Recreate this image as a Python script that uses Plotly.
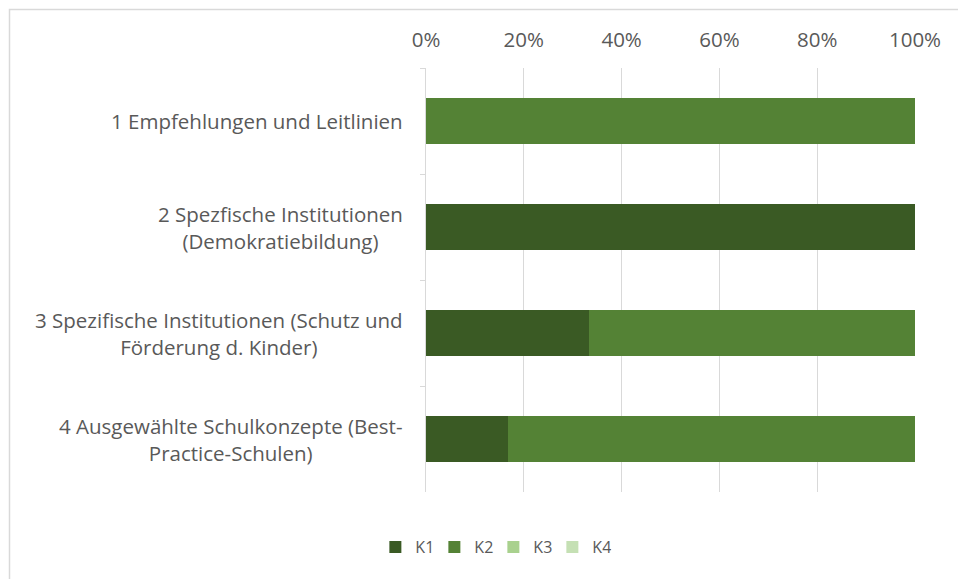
import plotly.graph_objects as go

categories = [
    "1 Empfehlungen und Leitlinien",
    "2 Spezfische Institutionen<br>(Demokratiebildung)",
    "3 Spezifische Institutionen (Schutz und<br>Förderung d. Kinder)",
    "4 Ausgewählte Schulkonzepte (Best-<br>Practice-Schulen)",
]
cat_ids = ["c1", "c2", "c3", "c4"]
series_names = ["K1", "K2", "K3", "K4"]
K1 = [0, 100, 33.3, 16.7]
K2 = [100, 0, 66.7, 83.3]
K3 = [0, 0, 0, 0]
K4 = [0, 0, 0, 0]
series_values = [K1, K2, K3, K4]
colors = ["#3a5a24", "#548235", "#a9d18e", "#c5e0b4"]
x_ticks = [0, 20, 40, 60, 80, 100]

W, H = 958, 579
L, R, T, B = 426, 43, 68, 87
FONT = "Open Sans"
GRAY = "#595959"

fig = go.Figure()
for name, vals, col in zip(series_names, series_values, colors):
    fig.add_trace(go.Bar(
        y=cat_ids, x=vals, name=name, orientation="h",
        marker=dict(color=col, line=dict(width=0)),
    ))

for cid, label in zip(cat_ids, categories):
    fig.add_annotation(
        x=0, xref="paper", y=cid, yref="y", text=label, showarrow=False,
        xanchor="right", yanchor="middle", align="center", xshift=-21,
        font=dict(family=FONT, size=20.5, color=GRAY),
    )

pw = W - L - R
ph = H - T - B
fig.add_shape(
    type="rect", xref="paper", yref="paper",
    x0=(9.5 - L) / pw, x1=(W + 5 - L) / pw,
    y0=(H - B - (H + 5)) / ph, y1=(H - B - 9.5) / ph,
    line=dict(color="#d9d9d9", width=1.5), fillcolor="rgba(0,0,0,0)", layer="below",
)

fig.update_layout(
    width=W, height=H,
    margin=dict(l=L, r=R, t=T, b=B, autoexpand=False),
    paper_bgcolor="white", plot_bgcolor="white",
    barmode="stack", bargap=0.57,
    font=dict(family=FONT, size=20.5, color=GRAY),
    showlegend=True,
    legend=dict(
        orientation="h", xref="container", yref="container",
        x=0.515, xanchor="center", y=1 - 547 / H, yanchor="middle",
        font=dict(family=FONT, size=16, color=GRAY),
        itemwidth=30, traceorder="normal", entrywidth=14, entrywidthmode="pixels",
    ),
    xaxis=dict(
        side="top", range=[0, 100], tickvals=x_ticks,
        ticktext=[f"{v}%" for v in x_ticks],
        showgrid=True, gridcolor="#d9d9d9", gridwidth=1,
        zeroline=False, showline=False, ticks="", ticklabelstandoff=16,
        fixedrange=True,
    ),
    yaxis=dict(
        categoryorder="array", categoryarray=cat_ids, autorange="reversed",
        showticklabels=False, showgrid=False, zeroline=False,
        showline=True, linecolor="#d9d9d9", linewidth=1,
        ticks="outside", tickson="boundaries", ticklen=5, tickcolor="#d9d9d9",
    ),
)

fig.write_html("out.html")
